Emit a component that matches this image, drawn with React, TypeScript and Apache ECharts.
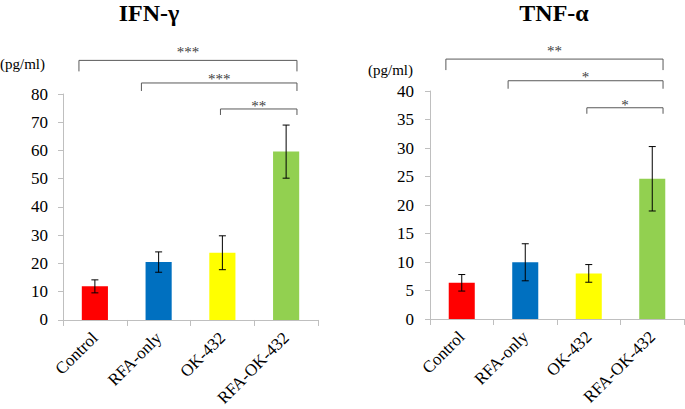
import React, { useEffect, useRef } from "react";
import * as echarts from "echarts";

const categories = ["Control", "RFA-only", "OK-432", "RFA-OK-432"];
const barColors = ["#ff0000", "#0070c0", "#ffff00", "#92d050"];

const ifnMeans = [11.9, 20.5, 23.8, 59.6];
const ifnSD = [2.3, 3.6, 6.0, 9.4];
const ifnMax = 80;
const ifnInterval = 10;

const tnfMeans = [6.35, 9.95, 8.0, 24.6];
const tnfSD = [1.45, 3.25, 1.55, 5.65];
const tnfMax = 40;
const tnfInterval = 5;

// significance brackets: [fromIndex, toIndex, level (axis value)] and labels
const ifnBrackets: number[][] = [
  [0, 3, 91.9],
  [1, 3, 83.9],
  [2, 3, 74.7],
];
const ifnBracketLabels = ["***", "***", "**"];
const tnfBrackets: number[][] = [
  [0, 3, 45.6],
  [1, 3, 41.8],
  [2, 3, 37.06],
];
const tnfBracketLabels = ["**", "*", "*"];

// bracket styling (positions / sizes only)
const bracketFromOffset = [-0.25, -0.27, -0.03];
const bracketToOffset = 0.17;
const bracketTail = [11, 8, 6];
const bracketLabelRise = [8, 4, 3];

const FONT = "Liberation Serif";

function errorData(means: number[], sds: number[]) {
  return means.map((m, i) => [i, m + sds[i], m - sds[i]]);
}

function errorRender(params: any, api: any) {
  const x = api.value(0);
  const top = api.coord([x, api.value(1)]);
  const bot = api.coord([x, api.value(2)]);
  const hw = 3.5;
  const style = { stroke: "#000", lineWidth: 1 };
  return {
    type: "group",
    children: [
      { type: "line", shape: { x1: top[0], y1: top[1], x2: bot[0], y2: bot[1] }, style },
      { type: "line", shape: { x1: top[0] - hw, y1: top[1], x2: top[0] + hw, y2: top[1] }, style },
      { type: "line", shape: { x1: bot[0] - hw, y1: bot[1], x2: bot[0] + hw, y2: bot[1] }, style },
    ],
  };
}

function makeBracketRender(labels: string[]) {
  return function (params: any, api: any) {
    const idx = params.dataIndex;
    const from = api.value(0);
    const to = api.value(1);
    const level = api.value(2);
    const p1 = api.coord([from, level]);
    const p2 = api.coord([to, level]);
    const bw = api.size([1, 0])[0];
    const x1 = p1[0] + bracketFromOffset[idx] * bw;
    const x2 = p2[0] + bracketToOffset * bw;
    const y = p1[1];
    const tail = bracketTail[idx];
    return {
      type: "group",
      children: [
        {
          type: "polyline",
          shape: { points: [[x1, y + tail], [x1, y], [x2, y], [x2, y + tail]] },
          style: { stroke: "#595959", lineWidth: 1, fill: null },
        },
        {
          type: "text",
          x: (x1 + x2) / 2,
          y: y - bracketLabelRise[idx],
          style: {
            text: labels[idx],
            align: "center",
            verticalAlign: "middle",
            fontSize: 15,
            fontFamily: FONT,
            fill: "#404040",
          },
        },
      ],
    };
  };
}

function makeXAxis(gridIndex: number) {
  return {
    type: "category",
    gridIndex,
    data: categories,
    axisLine: { lineStyle: { color: "#bfbfbf", width: 1 } },
    axisTick: { show: true, length: 6, lineStyle: { color: "#bfbfbf" } },
    axisLabel: { rotate: 45, margin: 15, fontSize: 17, fontFamily: FONT, color: "#000", interval: 0 },
    splitLine: { show: false },
  };
}

function makeYAxis(gridIndex: number, max: number, interval: number, margin: number) {
  return {
    type: "value",
    gridIndex,
    min: 0,
    max,
    interval,
    axisLine: { show: true, lineStyle: { color: "#bfbfbf", width: 1 } },
    axisTick: { show: true, length: 5, lineStyle: { color: "#bfbfbf" } },
    axisLabel: { margin, fontSize: 17, fontFamily: FONT, color: "#000" },
    splitLine: { show: false },
  };
}

function barData(means: number[]) {
  return means.map((v, i) => ({ value: v, itemStyle: { color: barColors[i] } }));
}

export default function App() {
  const ref = useRef<HTMLDivElement>(null);
  useEffect(() => {
    if (!ref.current) return;
    const chart = echarts.init(ref.current, null, { renderer: "svg" });
    chart.setOption({
      animation: false,
      backgroundColor: "#ffffff",
      textStyle: { fontFamily: FONT },
      grid: [
        { left: 63, right: 367, top: 94, bottom: 88 },
        { left: 430, right: 1, top: 91, bottom: 90 },
      ],
      xAxis: [makeXAxis(0), makeXAxis(1)],
      yAxis: [makeYAxis(0, ifnMax, ifnInterval, 15), makeYAxis(1, tnfMax, tnfInterval, 16)],
      graphic: [
        { type: "text", x: 149, y: 13, style: { text: "IFN-γ", align: "center", verticalAlign: "middle", fontSize: 24, fontWeight: "bold", fontFamily: FONT, fill: "#000" } },
        { type: "text", x: 554, y: 13, style: { text: "TNF-α", align: "center", verticalAlign: "middle", fontSize: 24, fontWeight: "bold", fontFamily: FONT, fill: "#000" } },
        { type: "text", x: 0, y: 64, style: { text: "(pg/ml)", align: "left", verticalAlign: "middle", fontSize: 15, fontFamily: FONT, fill: "#000" } },
        { type: "text", x: 368, y: 70, style: { text: "(pg/ml)", align: "left", verticalAlign: "middle", fontSize: 15, fontFamily: FONT, fill: "#000" } },
      ],
      series: [
        { type: "bar", xAxisIndex: 0, yAxisIndex: 0, data: barData(ifnMeans), barWidth: "41%" },
        { type: "bar", xAxisIndex: 1, yAxisIndex: 1, data: barData(tnfMeans), barWidth: "41%" },
        { type: "custom", xAxisIndex: 0, yAxisIndex: 0, data: errorData(ifnMeans, ifnSD), encode: { x: 0, y: [1, 2] }, renderItem: errorRender, z: 5 },
        { type: "custom", xAxisIndex: 1, yAxisIndex: 1, data: errorData(tnfMeans, tnfSD), encode: { x: 0, y: [1, 2] }, renderItem: errorRender, z: 5 },
        { type: "custom", xAxisIndex: 0, yAxisIndex: 0, data: ifnBrackets, encode: { x: 0, y: 2 }, renderItem: makeBracketRender(ifnBracketLabels), clip: false, z: 5 },
        { type: "custom", xAxisIndex: 1, yAxisIndex: 1, data: tnfBrackets, encode: { x: 0, y: 2 }, renderItem: makeBracketRender(tnfBracketLabels), clip: false, z: 5 },
      ],
    });
    return () => chart.dispose();
  }, []);
  return <div ref={ref} style={{ position: "absolute", left: 0, top: 0, width: 685, height: 409 }} />;
}
